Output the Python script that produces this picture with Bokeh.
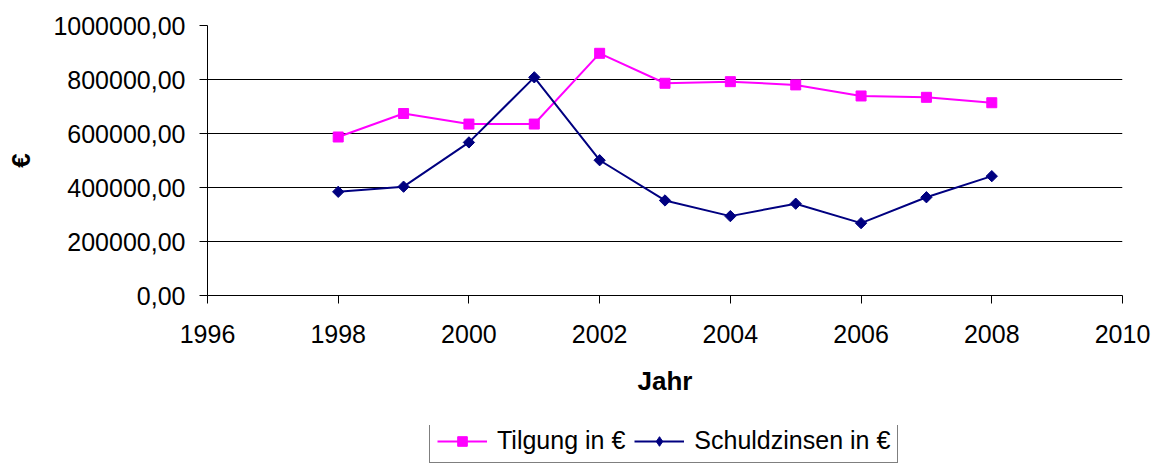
import math
from bokeh.plotting import figure
from bokeh.layouts import column
from bokeh.models import (Range1d, FixedTicker, CustomJSTickFormatter, Legend, LegendItem)
from bokeh.embed import file_html
from bokeh.resources import INLINE

years = [1998, 1999, 2000, 2001, 2002, 2003, 2004, 2005, 2006, 2007, 2008]
tilgung = [587000, 674000, 635000, 635000, 897000, 786000, 792000, 780000, 739000, 734000, 714000]
schuldzinsen = [384000, 403000, 567000, 808000, 501000, 352000, 294000, 340000, 268000, 364000, 442000]
x_ticks = [1996, 1998, 2000, 2002, 2004, 2006, 2008, 2010]
y_ticks = [0, 200000, 400000, 600000, 800000, 1000000]
series_labels = ["Tilgung in €", "Schuldzinsen in €"]

FONT = "Liberation Sans"
MAGENTA = "#FF00FF"
NAVY = "#000080"
DIAMOND = dict(marker="square", angle=math.pi / 4, size=8, fill_color=NAVY, line_color=NAVY)
SQUARE = dict(marker="square", size=10, fill_color=MAGENTA, line_color=MAGENTA)

p = figure(width=1159, height=425, output_backend="svg", toolbar_location=None,
           x_range=Range1d(1996, 2010), y_range=Range1d(0, 1000000),
           min_border_left=207, min_border_right=37, min_border_top=25, min_border_bottom=130)
p.outline_line_color = None
p.background_fill_color = "white"
p.border_fill_color = "white"

p.xgrid.visible = False
p.ygrid.grid_line_color = "black"
p.ygrid.grid_line_width = 1
p.ygrid.ticker = FixedTicker(ticks=y_ticks)

for ax in (p.xaxis[0], p.yaxis[0]):
    ax.axis_line_color = "black"
    ax.major_tick_line_color = "black"
    ax.major_tick_out = 8
    ax.major_tick_in = 0
    ax.minor_tick_line_color = None
    ax.major_label_text_font = FONT
    ax.major_label_text_font_size = "25px"
    ax.major_label_text_color = "black"
    ax.axis_label_text_font = FONT
    ax.axis_label_text_font_size = "26px"
    ax.axis_label_text_font_style = "bold"
    ax.axis_label_text_color = "black"

p.xaxis.ticker = FixedTicker(ticks=x_ticks)
p.yaxis.ticker = FixedTicker(ticks=y_ticks)
p.yaxis.formatter = CustomJSTickFormatter(code="return tick.toFixed(2).replace('.', ',');")
p.xaxis.formatter = CustomJSTickFormatter(code="return tick.toFixed(0);")
p.xaxis.axis_label = "Jahr"
p.yaxis.axis_label = "€"
p.xaxis.major_label_standoff = 21
p.xaxis.axis_label_standoff = 20
p.yaxis.major_label_standoff = 14
p.yaxis.axis_label_standoff = 14

p.line(years, tilgung, line_color=MAGENTA, line_width=2)
p.scatter(years, tilgung, **SQUARE)
p.line(years, schuldzinsen, line_color=NAVY, line_width=2)
p.scatter(years, schuldzinsen, **DIAMOND)

# legend strip below the chart (renderers hold no visible data, only legend glyphs)
nan = [float("nan")]
q = figure(width=1159, height=40, output_backend="svg", toolbar_location=None,
           x_axis_type=None, y_axis_type=None, x_range=Range1d(0, 1), y_range=Range1d(0, 1),
           min_border=0)
q.outline_line_color = None
q.grid.visible = False
ql1 = q.line(nan, nan, line_color=MAGENTA, line_width=2)
qs1 = q.scatter(nan, nan, marker="square", size=9, fill_color=MAGENTA, line_color=MAGENTA)
ql2 = q.line(nan, nan, line_color=NAVY, line_width=2)
qs2 = q.scatter(nan, nan, marker="diamond", size=12, fill_color=NAVY, line_color=NAVY)

legend = Legend(items=[LegendItem(label=series_labels[0], renderers=[ql1, qs1]),
                       LegendItem(label=series_labels[1], renderers=[ql2, qs2])],
                orientation="horizontal", location=(222, 2),
                label_text_font=FONT, label_text_font_size="25px", label_text_color="black",
                border_line_color="black", border_line_width=1, background_fill_color="white",
                background_fill_alpha=1.0, padding=7, spacing=9, glyph_width=50, glyph_height=24,
                label_standoff=10, label_height=24, margin=0)
q.add_layout(legend, "center")

layout = column(p, q, spacing=0)
open("out.html", "w").write(file_html(layout, INLINE))
